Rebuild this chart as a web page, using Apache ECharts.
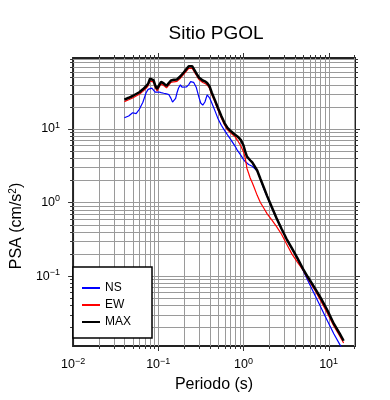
<!DOCTYPE html>
<html><head><meta charset="utf-8">
<script src="https://cdn.jsdelivr.net/npm/echarts@6/dist/echarts.min.js"></script>
<style>html,body{margin:0;padding:0;background:#fff}#c{width:390px;height:400px}</style>
</head><body><div id="c"></div>
<script>
const periods = [0.04, 0.045, 0.05, 0.055, 0.06, 0.066, 0.072, 0.076, 0.08, 0.084, 0.088, 0.092, 0.097, 0.102, 0.108, 0.116, 0.125, 0.133, 0.141, 0.147, 0.153, 0.16, 0.166, 0.173, 0.182, 0.19, 0.2, 0.214, 0.228, 0.24, 0.25, 0.26, 0.28, 0.3, 0.315, 0.333, 0.353, 0.375, 0.4, 0.425, 0.46, 0.5, 0.55, 0.6, 0.65, 0.72, 0.8, 0.85, 0.93, 1.0, 1.05, 1.1, 1.15, 1.2, 1.27, 1.33, 1.45, 1.58, 1.73, 1.9, 2.15, 2.45, 2.8, 3.2, 3.7, 4.3, 5, 5.7, 6.8, 8.1, 9.7, 11.5, 13.5, 15];
const maxValues = [25, 26.5, 28, 29.8, 31.5, 34.5, 38, 41, 48, 49.5, 46, 39, 35, 39, 43.5, 41.5, 38.5, 42, 45.5, 46.5, 46.5, 49.5, 47, 49, 52, 55, 59, 65, 71, 75, 71, 66, 57, 50, 47.5, 45.5, 44.3, 42, 38, 31, 25, 19.5, 15, 12, 10.3, 9.2, 8.3, 7.9, 7.1, 6.0, 4.9, 4.2, 3.95, 3.75, 3.5, 3.3, 2.72, 2.1, 1.61, 1.22, 0.87, 0.61, 0.44, 0.321, 0.24, 0.175, 0.125, 0.097, 0.07, 0.05, 0.034, 0.0225, 0.0165, 0.0132];
const ewValues = [23.5, 24.9, 26.3, 28, 29.6, 32.4, 35.7, 38.5, 45, 46.5, 43.2, 36.7, 32.9, 36.7, 40.9, 39, 36.2, 39.5, 42.8, 43.7, 43.7, 46.5, 44.2, 46, 48.9, 51.7, 55.5, 61, 66.7, 70.5, 66.7, 62, 53.6, 47, 44.7, 42.8, 41.6, 39.5, 35.7, 29.1, 23.5, 18.3, 14.1, 11.3, 9.7, 8.65, 7.8, 7.0, 5.9, 4.9, 4.0, 2.9, 2.5, 2.15, 1.85, 1.62, 1.25, 1.0, 0.84, 0.70, 0.58, 0.47, 0.37, 0.275, 0.2, 0.155, 0.121, 0.093, 0.066, 0.046, 0.031, 0.021, 0.0153, 0.0123];
const nsValues = [14.2, 15, 16.6, 16.1, 18.5, 23, 31, 34.5, 36.2, 35.8, 34, 31.6, 31.8, 31.7, 31.1, 30.5, 30, 29.3, 26, 23.2, 24.5, 26, 31, 36, 39.7, 37, 35.2, 37.1, 40, 44, 45, 43, 36.5, 27, 22.5, 21, 23.2, 29, 26.5, 22.5, 18, 14, 11.2, 9.55, 8.3, 7.0, 5.8, 5.1, 4.4, 3.85, 3.6, 3.4, 3.28, 3.2, 3.1, 3.0, 2.7, 2.08, 1.55, 1.2, 0.85, 0.6, 0.435, 0.318, 0.238, 0.172, 0.12, 0.087, 0.057, 0.0377, 0.0245, 0.0164, 0.0118, 0.0097];
const seriesNames = ['NS', 'EW', 'MAX'];
const xMajorTicks = [0.01, 0.1, 1, 10];
const yMajorTicks = [0.1, 1, 10];
const xRange = [0.01, 20.4];
const yRange = [0.0112, 92];

// minor tick positions (1..9 per decade) inside the axis ranges
function decadeTicks(range) {
  const out = [];
  for (let d = -3; d <= 2; d++) {
    for (let k = 1; k <= 9; k++) {
      const v = +(k * Math.pow(10, d)).toPrecision(6);
      if (v > range[0] * 1.0001 && v < range[1] * 0.9999) out.push(v);
    }
  }
  return out;
}
const xGridVals = decadeTicks(xRange);
const yGridVals = decadeTicks(yRange);

const FONT = 'Liberation Sans, Arial, Helvetica, sans-serif';
function isPow10(v) {
  const l = Math.log10(v);
  return Math.abs(l - Math.round(l)) < 1e-6;
}
function powLabel(v) {
  if (!isPow10(v)) return '';
  const e = Math.round(Math.log10(v));
  return '{b|10}{s|' + (e < 0 ? '\u2212' + (-e) : String(e)) + '}';
}
const labelRich = {
  b: { fontSize: 12.5, fontFamily: FONT, color: '#000' },
  s: { fontSize: 9, fontFamily: FONT, color: '#000', padding: [0, 0, 7, 0] }
};

const chart = echarts.init(document.getElementById('c'), null, { renderer: 'canvas' });

function vGrid(params, api) {
  const v = api.value(0);
  const cs = params.coordSys;
  const x = Math.round(api.coord([v, 1])[0]) + 0.5;
  const tl = isPow10(v) ? 5 : 3;
  const top = cs.y, bot = cs.y + cs.height;
  return { type: 'group', children: [
    { type: 'line', shape: { x1: x, y1: top, x2: x, y2: bot }, style: { stroke: '#9a9a9a', lineWidth: 1 } },
    { type: 'line', shape: { x1: x, y1: bot, x2: x, y2: bot + tl }, style: { stroke: '#333', lineWidth: 1 } },
    { type: 'line', shape: { x1: x, y1: top, x2: x, y2: top - tl }, style: { stroke: '#333', lineWidth: 1 } }
  ]};
}
function hGrid(params, api) {
  const v = api.value(1);
  const cs = params.coordSys;
  const y = Math.round(api.coord([1, v])[1]) + 0.5;
  const tl = isPow10(v) ? 5 : 3;
  const l = cs.x, r = cs.x + cs.width;
  return { type: 'group', children: [
    { type: 'line', shape: { x1: l, y1: y, x2: r, y2: y }, style: { stroke: '#9a9a9a', lineWidth: 1 } },
    { type: 'line', shape: { x1: l, y1: y, x2: l - tl, y2: y }, style: { stroke: '#333', lineWidth: 1 } },
    { type: 'line', shape: { x1: r, y1: y, x2: r + tl, y2: y }, style: { stroke: '#333', lineWidth: 1 } }
  ]};
}

const option = {
  animation: false,
  backgroundColor: '#fff',
  title: {
    text: 'Sitio PGOL', left: 211, top: 19, textAlign: 'center',
    textStyle: { fontFamily: FONT, fontSize: 19, fontWeight: 'normal', color: '#000' }
  },
  legend: {
    data: seriesNames, orient: 'vertical', left: 73, top: 267,
    icon: 'rect', itemWidth: 18, itemHeight: 2, itemGap: 3,
    padding: [14, 21, 9, 9],
    backgroundColor: '#fff', borderColor: '#000', borderWidth: 1.5,
    textStyle: { fontFamily: FONT, fontSize: 12, color: '#000', lineHeight: 14 }
  },
  grid: { left: 67, right: 35, top: 58, bottom: 54, show: true, borderColor: '#222', borderWidth: 2, backgroundColor: 'transparent' },
  xAxis: {
    type: 'log', logBase: 10, min: xRange[0], max: xRange[1],
    name: 'Periodo (s)', nameLocation: 'middle', nameGap: 28,
    nameTextStyle: { fontFamily: FONT, fontSize: 16, color: '#000' },
    axisLine: { show: false }, axisTick: { show: false }, splitLine: { show: false },
    axisLabel: { formatter: powLabel, rich: labelRich, margin: 11, showMaxLabel: false }
  },
  yAxis: {
    type: 'log', logBase: 10, min: yRange[0], max: yRange[1],
    name: '{a|PSA (cm/s}{sup|2}{a|)}', nameLocation: 'middle', nameGap: 36,
    nameTextStyle: { fontFamily: FONT, fontSize: 16, color: '#000', padding: [0, 48, 0, 0],
      rich: { a: { fontFamily: FONT, fontSize: 16, color: '#000' }, sup: { fontFamily: FONT, fontSize: 10, color: '#000', padding: [0, 0, 8, 0] } } },
    axisLine: { show: false }, axisTick: { show: false }, splitLine: { show: false },
    axisLabel: { formatter: powLabel, rich: labelRich, margin: 13, showMaxLabel: false, showMinLabel: false }
  },
  series: [
    { type: 'custom', name: 'xgrid', renderItem: vGrid, data: xGridVals.map(v => [v, 1]), z: 1, silent: true, clip: false },
    { type: 'custom', name: 'ygrid', renderItem: hGrid, data: yGridVals.map(v => [1, v]), z: 1, silent: true, clip: false },
    { type: 'line', name: 'NS', data: periods.map((t, i) => [t, nsValues[i]]), showSymbol: false, symbol: 'none', color: '#0000ff', lineStyle: { color: '#0000ff', width: 1.2 }, z: 3 },
    { type: 'line', name: 'EW', data: periods.map((t, i) => [t, ewValues[i]]), showSymbol: false, symbol: 'none', color: '#ff0000', lineStyle: { color: '#ff0000', width: 1.2 }, z: 4 },
    { type: 'line', name: 'MAX', data: periods.map((t, i) => [t, maxValues[i]]), showSymbol: false, symbol: 'none', color: '#000000', lineStyle: { color: '#000000', width: 2.5 }, z: 5 }
  ]
};
chart.setOption(option);
</script>
</body></html>
